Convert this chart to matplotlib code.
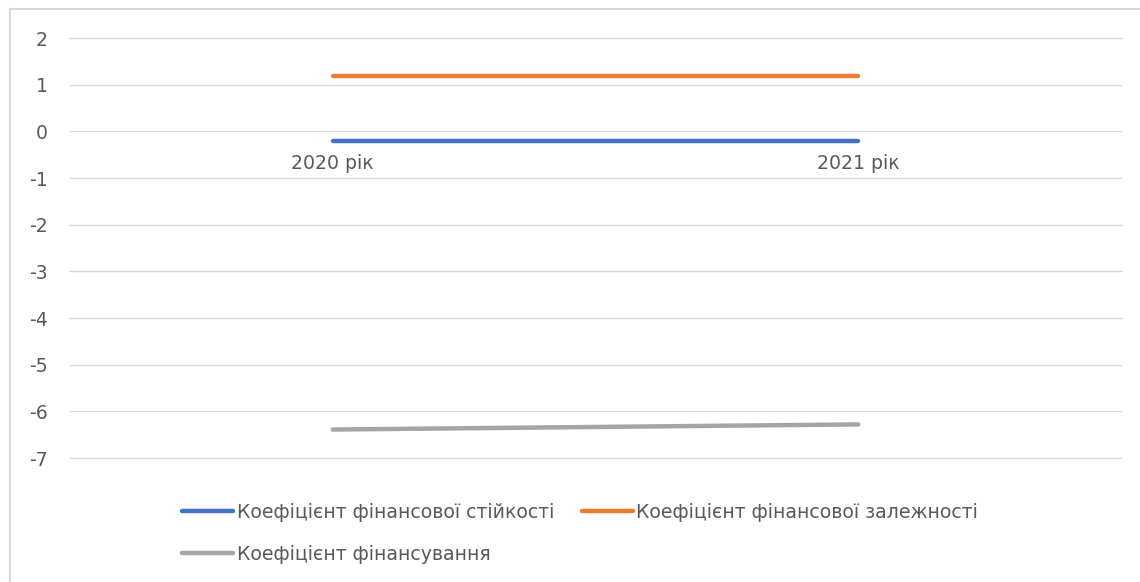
import matplotlib.pyplot as plt
from matplotlib.lines import Line2D

years = ['2020 рік', '2021 рік']
stability = [-0.21, -0.21]
dependence = [1.18, 1.18]
financing = [-6.39, -6.28]
series_names = ['Коефіцієнт фінансової стійкості',
                'Коефіцієнт фінансової залежності',
                'Коефіцієнт фінансування']
y_ticks = [2, 1, 0, -1, -2, -3, -4, -5, -6, -7]

plt.rcParams['font.family'] = ['DejaVu Sans']
TXT = '#595959'
GRID = '#D9D9D9'
FS = 13.6

W, H = 1140, 582
fig = plt.figure(figsize=(W / 100, H / 100), dpi=100)
ax = fig.add_axes([70 / W, 1 - 458 / H, (1121 - 70) / W, (458 - 38) / H])

x = list(range(len(years)))
l1, = ax.plot(x, stability, color='#4472C4', lw=3.2, solid_capstyle='round')
l2, = ax.plot(x, dependence, color='#ED7D31', lw=3.2, solid_capstyle='round')
l3, = ax.plot(x, financing, color='#A5A5A5', lw=3.2, solid_capstyle='round')

ax.set_xlim(-0.5, len(years) - 0.5)
ax.set_ylim(-7, 2)
ax.set_yticks(y_ticks)
ax.set_yticklabels([str(v) for v in y_ticks])
ax.set_xticks(x)
ax.set_xticklabels(years)

for s in ax.spines.values():
    s.set_visible(False)
ax.spines['bottom'].set_position(('data', 0))
ax.tick_params(axis='y', length=0, pad=16, labelsize=FS, labelcolor=TXT)
ax.tick_params(axis='x', length=0, pad=16, labelsize=FS, labelcolor=TXT)
ax.grid(axis='y', color=GRID, lw=1)
ax.set_axisbelow(True)
for gl in ax.yaxis.get_gridlines():
    gl.set_clip_on(False)

# chart border (top and left edges visible)
fig.add_artist(Line2D([10 / W, 10 / W], [0, 1 - 9 / H], color=GRID, lw=1.5))
fig.add_artist(Line2D([10 / W, 1], [1 - 9 / H, 1 - 9 / H], color=GRID, lw=1.5))

leg = fig.legend([l1, l3, l2], [series_names[0], series_names[2], series_names[1]],
                 ncol=2, loc='upper left', bbox_to_anchor=(165 / W, 1 - 486 / H),
                 frameon=False, fontsize=FS, handlelength=2.7, handletextpad=0.2,
                 columnspacing=1.45, labelspacing=1.2, labelcolor=TXT)

fig.savefig('out.png', dpi=100)
